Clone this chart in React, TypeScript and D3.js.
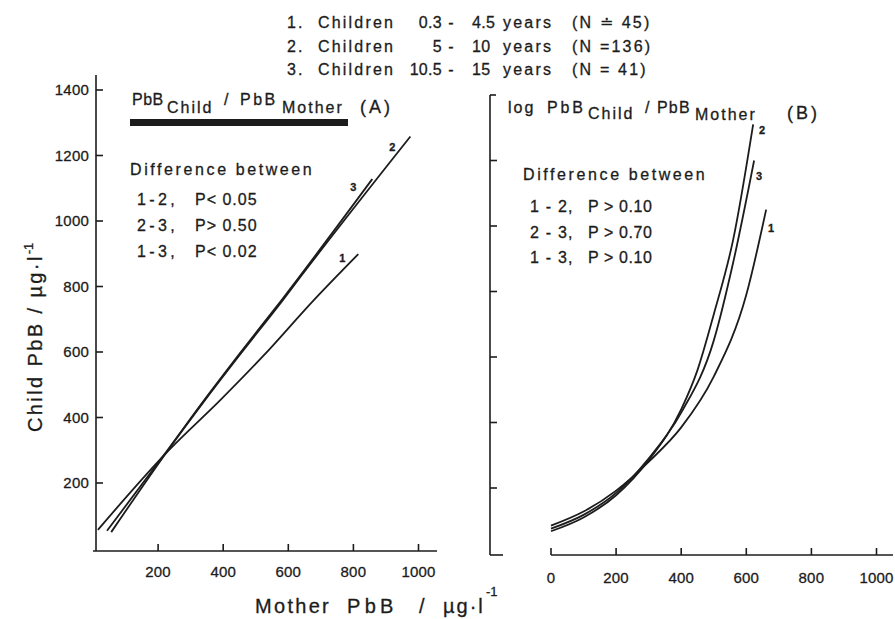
import React from "react";
import * as d3 from "d3";

// ---------- data ----------
const groupIndex = ["1.", "2.", "3."];
const groupName = ["Children", "Children", "Children"];
const ageStart = ["0.3", "5", "10.5"];
const ageEnd = ["4.5", "10", "15"];
const groupN = ["(N \u2250 45)", "(N =136)", "(N = 41)"];

const diffPairs = ["1-2,", "2-3,", "1-3,"];
const diffA = ["P< 0.05", "P> 0.50", "P< 0.02"];
const diffPairsB = ["1 - 2,", "2 - 3,", "1 - 3,"];
const diffB = ["P > 0.10", "P > 0.70", "P > 0.10"];

const xTicksA = [200, 400, 600, 800, 1000];
const yTicksA = [200, 400, 600, 800, 1000, 1200, 1400];
const xTicksB = [0, 200, 400, 600, 800, 1000];
const yTicksB = [200, 400, 600, 800, 1000, 1200];

// Panel A: PbB child vs PbB mother
const seriesA1: [number, number][] = [[15, 57], [231, 298], [391, 453], [523, 588], [677, 757], [815, 899]];
const seriesA2: [number, number][] = [[56, 50], [231, 301], [344, 453], [453, 594], [582, 757], [637, 829], [975, 1258]];
const seriesA3: [number, number][] = [[43, 54], [231, 303], [344, 456], [453, 598], [582, 762], [858, 1128]];

// Panel B: log PbB child vs PbB mother
const seriesB1: [number, number][] = [[0, 85], [100, 128], [200, 192], [300, 280], [400, 385], [500, 540], [600, 790], [661, 1050]];
const seriesB2: [number, number][] = [[0, 68], [100, 110], [200, 178], [300, 285], [400, 440], [450, 560], [500, 730], [560, 960], [621, 1310]];
const seriesB3: [number, number][] = [[0, 76], [100, 118], [200, 185], [300, 290], [400, 430], [500, 650], [560, 890], [624, 1200]];

const seriesLabels = ["1", "2", "3"];

// ---------- layout ----------
const W = 895;
const H = 619;
const INK = "#1c1c1c";
const FONT = "'Liberation Sans', Arial, sans-serif";

const xA = d3.scaleLinear().domain([0, 1000]).range([93, 418.5]);
const yA = d3.scaleLinear().domain([0, 1400]).range([548.5, 90]);
const xB = d3.scaleLinear().domain([0, 1000]).range([551, 876.5]);
const yB = d3.scaleLinear().domain([0, 1400]).range([553.5, 95]);

const lineA = d3
  .line<[number, number]>()
  .x((d) => xA(d[0]))
  .y((d) => yA(d[1]))
  .curve(d3.curveMonotoneX);
const lineB = d3
  .line<[number, number]>()
  .x((d) => xB(d[0]))
  .y((d) => yB(d[1]))
  .curve(d3.curveMonotoneX);

const txt = { fontFamily: FONT, fill: INK, stroke: INK, strokeWidth: 0.3 } as const;

export default function App() {
  const A = [seriesA1, seriesA2, seriesA3];
  const B = [seriesB1, seriesB2, seriesB3];
  const offA: [number, number][] = [[-16, 5], [-18, 12], [-19, 9]];
  const offB: [number, number][] = [[5, 19], [9, 7], [5, 17]];

  const axisYA = 96;
  const axisXA = 551;
  const axisYB = 490;
  const axisXB = 555;

  return (
    <svg
      width={W}
      height={H}
      viewBox={`0 0 ${W} ${H}`}
      style={{ position: "absolute", left: 0, top: 0, background: "#fff" }}
    >
      <rect x={0} y={0} width={W} height={H} fill="#fff" />

      {/* Header legend */}
      {groupIndex.map((g, i) => {
        const y = 28 + i * 23.5;
        return (
          <g key={"h" + i} {...txt} fontSize={16} letterSpacing={2.2}>
            <text x={287} y={y}>{g}</text>
            <text x={318} y={y}>{groupName[i]}</text>
            <text x={442} y={y} textAnchor="end" letterSpacing={0.3}>{ageStart[i]}</text>
            <text x={452} y={y} textAnchor="middle">-</text>
            <text x={472} y={y} letterSpacing={0.3}>{ageEnd[i]}</text>
            <text x={503} y={y}>years</text>
            <text x={572} y={y}>{groupN[i]}</text>
          </g>
        );
      })}

      {/* ---------------- Panel A ---------------- */}
      <g stroke={INK} strokeWidth={1.6} fill="none">
        <line x1={axisYA} y1={75} x2={axisYA} y2={axisXA} />
        <line x1={93} y1={axisXA} x2={437} y2={axisXA} />
        {yTicksA.map((t) => (
          <line key={"yta" + t} x1={axisYA} x2={axisYA + 7} y1={yA(t)} y2={yA(t)} />
        ))}
        {xTicksA.map((t) => (
          <line key={"xta" + t} x1={xA(t)} x2={xA(t)} y1={axisXA} y2={axisXA - 7} />
        ))}
      </g>
      {yTicksA.map((t) => (
        <text key={"ylA" + t} x={89} y={yA(t) + 5} textAnchor="end" fontSize={15} letterSpacing={0.2} {...txt}>
          {t}
        </text>
      ))}
      {xTicksA.map((t) => (
        <text key={"xlA" + t} x={xA(t)} y={577} textAnchor="middle" fontSize={15} letterSpacing={0.2} {...txt}>
          {t}
        </text>
      ))}

      {/* Panel A title */}
      <g {...txt} fontSize={16} letterSpacing={2}>
        <text x={132} y={105} letterSpacing={0.5}>PbB</text>
        <text x={167} y={113}>Child</text>
        <text x={224} y={105}>/</text>
        <text x={240} y={105} letterSpacing={2.5}>PbB</text>
        <text x={282} y={113}>Mother</text>
        <text x={360} y={113} fontSize={18} letterSpacing={3}>(A)</text>
      </g>
      <rect x={130} y={119} width={218} height={7} fill={INK} />

      <g {...txt} fontSize={16} letterSpacing={2.6}>
        <text x={130} y={175}>Difference between</text>
        {diffPairs.map((p, i) => (
          <g key={"da" + i}>
            <text x={137} y={205 + i * 26} letterSpacing={3.4}>{p}</text>
            <text x={195} y={205 + i * 26} letterSpacing={1}>{diffA[i]}</text>
          </g>
        ))}
      </g>

      {A.map((s, i) => (
        <path key={"pa" + i} d={lineA(s) || ""} fill="none" stroke={INK} strokeWidth={1.8} />
      ))}
      {A.map((s, i) => {
        const last = s[s.length - 1];
        return (
          <text
            key={"la" + i}
            x={xA(last[0]) + offA[i][0]}
            y={yA(last[1]) + offA[i][1]}
            textAnchor="middle"
            dominantBaseline="middle"
            fontSize={11}
            fontWeight="bold"
            {...txt}
          >
            {seriesLabels[i]}
          </text>
        );
      })}

      {/* ---------------- Panel B ---------------- */}
      <g stroke={INK} strokeWidth={1.6} fill="none">
        <line x1={axisYB} y1={yB(1400)} x2={axisYB} y2={axisXB} />
        <line x1={axisYB} y1={yB(1400)} x2={axisYB + 6} y2={yB(1400)} />
        <line x1={axisYB} y1={axisXB} x2={axisYB + 13} y2={axisXB} />
        {yTicksB.map((t) => (
          <line key={"ytb" + t} x1={axisYB} x2={axisYB + 7} y1={yB(t)} y2={yB(t)} />
        ))}
        <line x1={xB(0)} y1={axisXB} x2={893} y2={axisXB} />
        {xTicksB.map((t) => (
          <line key={"xtb" + t} x1={xB(t)} x2={xB(t)} y1={axisXB} y2={axisXB - 7} />
        ))}
      </g>
      {xTicksB.map((t) => (
        <text key={"xlB" + t} x={xB(t)} y={583} textAnchor="middle" fontSize={15} letterSpacing={0.2} {...txt}>
          {t}
        </text>
      ))}

      <g {...txt} fontSize={16} letterSpacing={2}>
        <text x={508} y={113}>log</text>
        <text x={547} y={113} letterSpacing={2.8}>PbB</text>
        <text x={588} y={119}>Child</text>
        <text x={645} y={113}>/</text>
        <text x={657} y={113} letterSpacing={1.2}>PbB</text>
        <text x={695} y={120}>Mother</text>
        <text x={787} y={119} fontSize={18} letterSpacing={3}>(B)</text>
      </g>

      <g {...txt} fontSize={16} letterSpacing={2.6}>
        <text x={523} y={180}>Difference between</text>
        {diffPairsB.map((p, i) => (
          <g key={"db" + i}>
            <text x={530} y={212 + i * 25.5} letterSpacing={1.2}>{p}</text>
            <text x={588} y={212 + i * 25.5} letterSpacing={0.6}>{diffB[i]}</text>
          </g>
        ))}
      </g>

      {B.map((s, i) => (
        <path key={"pb" + i} d={lineB(s) || ""} fill="none" stroke={INK} strokeWidth={1.8} />
      ))}
      {B.map((s, i) => {
        const last = s[s.length - 1];
        return (
          <text
            key={"lb" + i}
            x={xB(last[0]) + offB[i][0]}
            y={yB(last[1]) + offB[i][1]}
            textAnchor="middle"
            dominantBaseline="middle"
            fontSize={11}
            fontWeight="bold"
            {...txt}
          >
            {seriesLabels[i]}
          </text>
        );
      })}

      {/* Axis titles */}
      <text
        transform="translate(42,432) rotate(-90)"
        fontSize={20}
        letterSpacing={2.4}
        {...txt}
      >
        Child PbB / µg·l
        <tspan dy={-9} fontSize={13} letterSpacing={0}>-1</tspan>
      </text>
      <g {...txt} fontSize={20}>
        <text x={255} y={613} letterSpacing={2.3}>Mother</text>
        <text x={347} y={613} letterSpacing={4.3}>PbB</text>
        <text x={419} y={613}>/</text>
        <text x={443} y={613} letterSpacing={2}>µg·l</text>
        <text x={486} y={596} fontSize={13}>-1</text>
      </g>
    </svg>
  );
}
